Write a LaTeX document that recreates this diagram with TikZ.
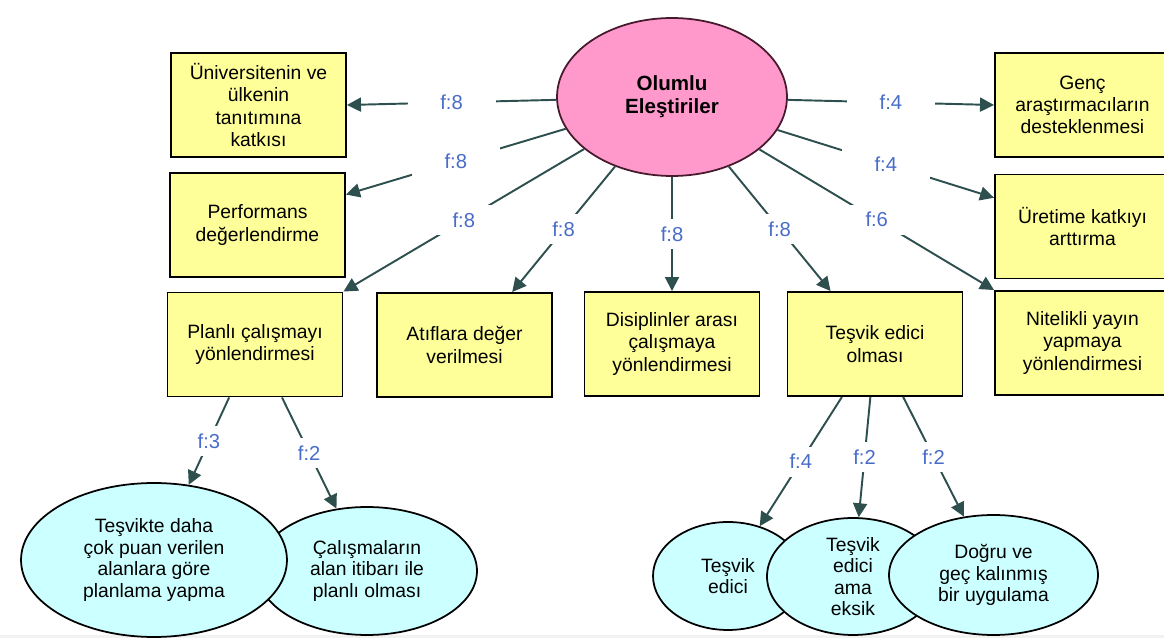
\documentclass[tikz,border=0pt]{standalone}
\usepackage{fontspec}
\setmainfont{Liberation Sans}
\usetikzlibrary{arrows.meta,shapes.geometric,calc}
\definecolor{boxyellow}{RGB}{255,255,153}
\definecolor{pinkfill}{RGB}{255,153,204}
\definecolor{pinkborder}{RGB}{70,25,45}
\definecolor{cyanfill}{RGB}{204,255,255}
\definecolor{arrowcol}{RGB}{45,80,78}
\definecolor{labelblue}{RGB}{72,108,200}
\begin{document}
\begin{tikzpicture}[x=0.02cm,y=-0.02cm,
  box/.style={draw=black, line width=1.1pt, fill=boxyellow, rectangle, minimum width=3.5cm, minimum height=2.08cm, align=center, font=\fontsize{11}{12.7}\selectfont, inner sep=2pt},
  topell/.style={draw=pinkborder, line width=1pt, fill=pinkfill, ellipse, minimum width=4.6cm, minimum height=3.16cm, align=center, font=\fontsize{11.7}{13}\selectfont\bfseries, inner sep=0pt},
  subell/.style={draw=black, line width=1pt, fill=cyanfill, ellipse, align=center, font=\fontsize{11}{12.2}\selectfont, inner sep=0pt},
  conn/.style={draw=arrowcol, line width=1.1pt, -{Triangle[length=0.28cm,width=0.28cm]}},
  lbl/.style={fill=white, text=labelblue, font=\fontsize{11.5}{13}\selectfont, minimum width=1.76cm, minimum height=0.6cm, inner sep=0pt},
]
\useasboundingbox (0,0) rectangle (1164,638);
\clip (0,0) rectangle (1164,638);
\fill[gray!10] (0,635) rectangle (1164,638);

% central ellipse
\node[topell] (ell) at (672,97) {Olumlu\\Eleştiriler};

% boxes
\node[box] (uni)  at (258.5,105) {Üniversitenin ve\\ülkenin\\tanıtımına\\katkısı};
\node[box] (perf) at (257.5,225) {Performans\\değerlendirme};
\node[box] (plan) at (255,344.5) {Planlı çalışmayı\\yönlendirmesi};
\node[box] (atif) at (464.5,345) {Atıflara değer\\verilmesi};
\node[box] (disi) at (672,344) {Disiplinler arası\\çalışmaya\\yönlendirmesi};
\node[box] (tes)  at (875,344) {Teşvik edici\\olması};
\node[box] (nit)  at (1082.5,343) {Nitelikli yayın\\yapmaya\\yönlendirmesi};
\node[box] (ure)  at (1082.5,226.5) {Üretime katkıyı\\arttırma};
\node[box] (genc) at (1082.5,105) {Genç\\araştırmacıların\\desteklenmesi};

% bottom ellipses
\node[subell, minimum width=4.4cm, minimum height=2.56cm] (B) at (367,571) {Çalışmaların\\alan itibarı ile\\planlı olması};
\node[subell, minimum width=5.32cm, minimum height=3.08cm] (A) at (154,560) {Teşvikte daha\\çok puan verilen\\alanlara göre\\planlama yapma};
\node[subell, minimum width=3.0cm, minimum height=2.16cm] (C) at (728,576) {Teşvik\\edici};
\node[subell, minimum width=3.44cm, minimum height=2.34cm, inner ysep=-2pt] (D) at (853,576.5) {Teşvik\\edici\\ama\\eksik};
\node[subell, minimum width=4.18cm, minimum height=2.4cm] (E) at (993.5,575) {Doğru ve\\geç kalınmış\\bir uygulama};

% connectors from the central ellipse
\draw[conn] (ell) -- node[lbl]{f:8} (uni.east);
\draw[conn] (ell) -- node[lbl]{f:8} (perf.19);
\draw[conn] (ell) -- node[lbl]{f:8} (plan.north east);
\draw[conn] (ell) -- node[lbl]{f:8} (atif.48);
\draw[conn] (ell) -- node[lbl]{f:8} (disi.north);
\draw[conn] (ell) -- node[lbl]{f:8} (tes.130);
\draw[conn] (ell) -- node[lbl]{f:6} (nit.north west);
\draw[conn] (ell) -- node[lbl]{f:4} (ure.162);
\draw[conn] (ell) -- node[lbl]{f:4} (genc.west);

% lower connectors
\draw[conn] (plan.244) -- node[lbl]{f:3} (A);
\draw[conn] (plan.297) -- node[lbl]{f:2} (B);
\draw[conn] (tes.238) -- node[lbl]{f:4} (C);
\draw[conn] (tes.265) -- node[lbl]{f:2} (D);
\draw[conn] (tes.298) -- node[lbl]{f:2} (E);
\end{tikzpicture}
\end{document}
